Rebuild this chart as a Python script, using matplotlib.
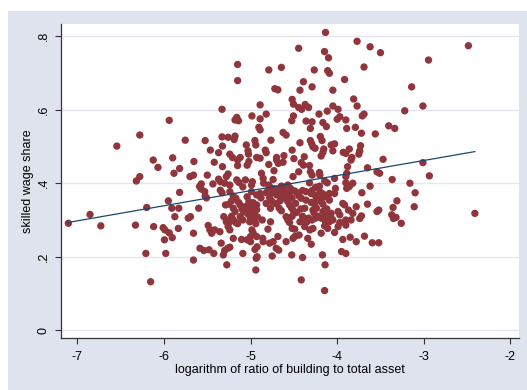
import matplotlib
matplotlib.use("Agg")
import matplotlib.pyplot as plt
from matplotlib.patches import Rectangle
import numpy as np

# log(building / total asset) for each firm
log_ratio = [
    -4.135, -3.77, -3.62, -2.485, -4.445, -4.146, -3.50, -4.10, -2.945, -5.15,
    -4.645, -3.69, -4.79, -4.265, -4.11, -4.09, -3.915, -5.15, -4.39, -4.29,
    -3.14, -4.72, -4.685, -4.43, -4.05, -3.81, -4.52, -4.505, -4.37, -4.445,
    -4.41, -4.33, -4.05, -3.77, -3.01, -5.33, -3.99, -4.89, -3.22, -4.115,
    -4.21, -4.82, -4.985, -4.505, -3.69, -3.71, -3.97, -4.00, -3.90, -5.16,
    -5.18, -5.14, -4.89, -4.525, -4.36, -4.29, -4.165, -5.94, -3.405, -3.335,
    -3.79, -4.905, -4.89, -4.31, -4.125, -3.89, -4.625, -4.59, -3.56, -3.72,
    -6.28, -5.33, -5.26, -5.18, -5.19, -5.755, -5.525, -4.95, -4.765, -4.195,
    -4.175, -4.31, -4.295, -4.43, -6.545, -5.05, -4.94, -4.07, -4.03, -3.73,
    -5.325, -4.28, -4.255, -5.465, -4.83, -4.82, -4.52, -3.86, -4.155, -4.165,
    -4.05, -5.03, -5.025, -5.37, -5.24, -5.21, -3.93, -3.74, -3.75, -3.90,
    -4.615, -4.185, -5.90, -4.50, -4.38, -3.83, -3.84, -3.47, -4.93, -4.89,
    -5.12, -5.15, -4.70, -4.70, -4.68, -6.125, -5.655, -5.42, -5.02, -5.04,
    -4.625, -4.79, -4.415, -4.39, -4.32, -6.07, -5.82, -5.325, -5.15, -3.88,
    -3.65, -3.01, -4.445, -4.73, -4.875, -4.31, -4.29, -4.205, -4.20, -3.89,
    -3.90, -5.885, -3.54, -3.51, -2.935, -5.26, -5.28, -5.66, -5.70, -5.50,
    -6.28, -6.32, -5.37, -5.35, -5.16, -5.135, -5.06, -4.51, -4.03, -3.365,
    -4.855, -4.74, -4.145, -4.115, -4.32, -5.30, -5.24, -5.435, -5.57, -5.59,
    -4.98, -4.99, -3.82, -3.90, -3.16, -4.79, -4.77, -4.645, -4.625, -4.57,
    -4.54, -4.205, -4.25, -3.86, -3.89, -3.62, -5.09, -4.49, -4.46, -4.40,
    -4.36, -4.29, -4.02, -4.03, -5.57, -5.53, -5.35, -5.33, -5.24, -5.82,
    -3.715, -3.10, -4.99, -4.93, -4.89, -4.82, -4.20, -4.165, -4.13, -4.09,
    -5.525, -5.20, -5.17, -5.04, -4.44, -4.415, -4.24, -4.09, -5.95, -4.36,
    -3.31, -5.22, -5.25, -5.14, -5.12, -5.02, -4.97, -4.93, -4.57, -4.55,
    -4.705, -4.30, -4.26, -4.185, -4.165, -3.935, -3.915, -3.65, -3.355, -3.11,
    -5.29, -6.20, -5.91, -5.83, -5.60, -5.20, -5.18, -4.77, -4.67, -4.645,
    -4.53, -4.51, -4.375, -4.28, -4.24, -4.165, -4.145, -4.07, -3.99, -3.97,
    -3.87, -3.78, -3.54, -3.52, -3.37, -3.35, -3.32, -3.72, -3.74, -3.82,
    -2.41, -6.855, -7.105, -6.73, -6.33, -6.12, -6.01, -5.99, -5.835, -5.875,
    -5.72, -5.695, -5.66, -5.49, -5.47, -5.45, -5.415, -5.355, -5.31, -5.28,
    -5.24, -5.26, -5.24, -5.20, -5.17, -5.12, -5.09, -5.20, -5.105, -5.04,
    -5.00, -4.985, -4.97, -5.00, -4.93, -4.865, -4.80, -4.86, -4.855, -4.77,
    -4.685, -4.74, -4.78, -4.59, -4.57, -4.55, -4.52, -4.49, -4.49, -4.51,
    -4.59, -4.43, -4.395, -4.375, -4.315, -4.28, -4.44, -4.34, -4.30, -4.35,
    -4.29, -4.25, -4.185, -4.145, -4.11, -4.09, -4.07, -4.185, -4.145, -4.11,
    -4.03, -3.97, -3.99, -3.915, -3.90, -3.90, -3.84, -3.935, -3.85, -3.78,
    -3.685, -3.595, -3.52, -3.26, -3.95, -3.90, -4.17, -4.14, -4.415, -4.145,
    -6.155, -6.21, -5.98, -5.995, -5.905, -5.66, -5.585, -5.54, -5.48, -5.425,
    -5.34, -5.30, -5.315, -5.265, -5.24, -5.275, -5.09, -4.925, -4.95, -4.935,
    -4.925, -4.94, -4.75, -4.705, -4.675, -4.525, -4.40, -5.94, -5.51,
    # denser core
    -5.06, -5.02, -4.99, -4.97, -4.95, -5.00, -4.96, -5.03, -4.93, -5.08,
    -4.98, -4.92, -5.01, -4.94,
    -4.72, -4.68, -4.66, -4.62, -4.60, -4.57, -4.64, -4.70, -4.55, -4.52,
    -4.75, -4.62, -4.58, -4.66,
    -4.30, -4.25, -4.18, -4.12, -4.08, -4.15, -4.22, -4.27, -4.33, -4.05,
    -4.48, -4.42, -4.47, -4.40, -4.52,
    -4.85, -4.80, -4.78, -4.82, -4.88, -4.75,
    -5.22, -5.15, -5.28, -5.10,
]

# skilled wage share for each firm
wage_share = [
    0.810, 0.786, 0.771, 0.774, 0.767, 0.758, 0.755, 0.741, 0.735, 0.723,
    0.715, 0.716, 0.708, 0.708, 0.706, 0.699, 0.682, 0.679, 0.676, 0.662,
    0.662, 0.657, 0.654, 0.653, 0.653, 0.629, 0.628, 0.615, 0.614, 0.606,
    0.601, 0.606, 0.610, 0.610, 0.610, 0.601, 0.601, 0.613, 0.597, 0.596,
    0.588, 0.588, 0.583, 0.583, 0.588, 0.583, 0.581, 0.574, 0.572, 0.579,
    0.572, 0.570, 0.575, 0.570, 0.569, 0.567, 0.565, 0.571, 0.556, 0.549,
    0.552, 0.552, 0.545, 0.549, 0.554, 0.549, 0.538, 0.531, 0.534, 0.536,
    0.531, 0.526, 0.525, 0.528, 0.519, 0.517, 0.516, 0.516, 0.517, 0.527,
    0.516, 0.516, 0.508, 0.510, 0.501, 0.504, 0.504, 0.504, 0.507, 0.502,
    0.501, 0.499, 0.495, 0.490, 0.490, 0.483, 0.490, 0.493, 0.493, 0.484,
    0.488, 0.488, 0.479, 0.483, 0.479, 0.470, 0.484, 0.488, 0.479, 0.481,
    0.475, 0.474, 0.469, 0.467, 0.472, 0.470, 0.463, 0.465, 0.470, 0.468,
    0.470, 0.463, 0.470, 0.463, 0.454, 0.463, 0.459, 0.457, 0.459, 0.449,
    0.457, 0.451, 0.456, 0.449, 0.448, 0.443, 0.440, 0.445, 0.448, 0.445,
    0.442, 0.456, 0.431, 0.434, 0.427, 0.431, 0.422, 0.429, 0.422, 0.427,
    0.418, 0.427, 0.431, 0.427, 0.420, 0.425, 0.418, 0.422, 0.418, 0.422,
    0.418, 0.406, 0.411, 0.404, 0.409, 0.402, 0.409, 0.418, 0.413, 0.410,
    0.413, 0.410, 0.406, 0.401, 0.401, 0.400, 0.395, 0.398, 0.398, 0.391,
    0.404, 0.395, 0.400, 0.401, 0.400, 0.395, 0.388, 0.392, 0.383, 0.395,
    0.386, 0.392, 0.389, 0.391, 0.386, 0.392, 0.390, 0.379, 0.374, 0.380,
    0.377, 0.380, 0.386, 0.372, 0.384, 0.377, 0.381, 0.374, 0.377, 0.375,
    0.374, 0.374, 0.377, 0.368, 0.372, 0.374, 0.377, 0.371, 0.363, 0.372,
    0.365, 0.365, 0.359, 0.363, 0.365, 0.359, 0.359, 0.354, 0.352, 0.354,
    0.352, 0.352, 0.343, 0.348, 0.341, 0.350, 0.347, 0.341, 0.350, 0.341,
    0.344, 0.348, 0.343, 0.350, 0.343, 0.345, 0.341, 0.343, 0.334, 0.336,
    0.341, 0.334, 0.332, 0.332, 0.332, 0.332, 0.323, 0.332, 0.332, 0.325,
    0.334, 0.327, 0.332, 0.327, 0.332, 0.323, 0.318, 0.318, 0.323, 0.314,
    0.327, 0.336, 0.323, 0.327, 0.314, 0.304, 0.307, 0.311, 0.304, 0.318,
    0.318, 0.315, 0.291, 0.284, 0.286, 0.282, 0.279, 0.273, 0.277, 0.309,
    0.305, 0.309, 0.264, 0.285, 0.273, 0.264, 0.273, 0.268, 0.309, 0.300,
    0.295, 0.282, 0.273, 0.300, 0.293, 0.309, 0.300, 0.250, 0.247, 0.246,
    0.241, 0.273, 0.264, 0.255, 0.255, 0.300, 0.275, 0.250, 0.241, 0.295,
    0.255, 0.241, 0.237, 0.309, 0.300, 0.293, 0.277, 0.275, 0.255, 0.250,
    0.241, 0.295, 0.300, 0.282, 0.273, 0.277, 0.259, 0.250, 0.234, 0.295,
    0.300, 0.305, 0.305, 0.300, 0.309, 0.295, 0.305, 0.264, 0.284, 0.277,
    0.266, 0.293, 0.282, 0.295, 0.300, 0.286, 0.300, 0.247, 0.253, 0.241,
    0.256, 0.238, 0.238, 0.291, 0.214, 0.209, 0.205, 0.178, 0.137, 0.108,
    0.132, 0.209, 0.209, 0.246, 0.252, 0.191, 0.223, 0.217, 0.219, 0.209,
    0.237, 0.217, 0.205, 0.223, 0.226, 0.178, 0.209, 0.227, 0.220, 0.196,
    0.200, 0.164, 0.202, 0.223, 0.218, 0.205, 0.198, 0.265, 0.360,
    # denser core
    0.336, 0.330, 0.325, 0.318, 0.312, 0.305, 0.300, 0.316, 0.328, 0.322,
    0.338, 0.308, 0.295, 0.290,
    0.385, 0.380, 0.372, 0.378, 0.370, 0.365, 0.362, 0.368, 0.375, 0.360,
    0.375, 0.390, 0.355, 0.352,
    0.372, 0.366, 0.360, 0.330, 0.310, 0.305, 0.310, 0.320, 0.305, 0.300,
    0.345, 0.330, 0.320, 0.310, 0.310,
    0.400, 0.380, 0.360, 0.345, 0.360, 0.350,
    0.310, 0.290, 0.295, 0.330,
]

x = np.array(log_ratio)
y = np.array(wage_share)

# linear fit over the observed range
slope, intercept = np.polyfit(x, y, 1)
fit_x = np.array([x.min(), x.max()])
fit_y = intercept + slope * fit_x

maroon = "#90353b"
navy = "#1a476f"
bg = "#dfe3ee"

fig = plt.figure(figsize=(5.27, 3.90), dpi=100, facecolor="white")
# graph region background, drawn under the axes
fig.patches.append(Rectangle((8 / 527, 0), 1, 1 - 11 / 390, transform=fig.transFigure,
                             facecolor=bg, edgecolor="none", zorder=-10))

ax = fig.add_axes([61 / 527, 52 / 390, 458 / 527, 314 / 390])
ax.set_facecolor("white")

for g in [0, 0.2, 0.4, 0.6, 0.8]:
    ax.axhline(g, color="#e4e7f1", lw=1.0, zorder=1)

ax.scatter(x, y, s=28, color=maroon, edgecolors="none", zorder=3)
ax.plot(fit_x, fit_y, color=navy, lw=0.9, zorder=4)

ax.set_xlim(-7.19, -1.90)
ax.set_ylim(-0.021, 0.833)

ax.set_xticks([-7, -6, -5, -4, -3, -2])
ax.set_xticklabels(["-7", "-6", "-5", "-4", "-3", "-2"])
ax.set_yticks([0, 0.2, 0.4, 0.6, 0.8])
ax.set_yticklabels(["0", ".2", ".4", ".6", ".8"], rotation=90, va="center")

for side in ["top", "right"]:
    ax.spines[side].set_visible(False)
for side in ["left", "bottom"]:
    ax.spines[side].set_color("#333333")
    ax.spines[side].set_linewidth(0.9)

ax.tick_params(axis="both", direction="out", length=4, width=0.8, color="#333333",
               labelsize=9, labelcolor="black")
ax.tick_params(axis="x", pad=5)
ax.tick_params(axis="y", pad=4)

ax.set_xlabel("logarithm of ratio of building to total asset", fontsize=9,
              family="Liberation Sans", labelpad=1)
ax.set_ylabel("skilled wage share", fontsize=9, family="Liberation Sans", labelpad=3)
for lbl in ax.get_xticklabels() + ax.get_yticklabels():
    lbl.set_family("Liberation Sans")

fig.savefig("out.png", dpi=100, facecolor="white")
